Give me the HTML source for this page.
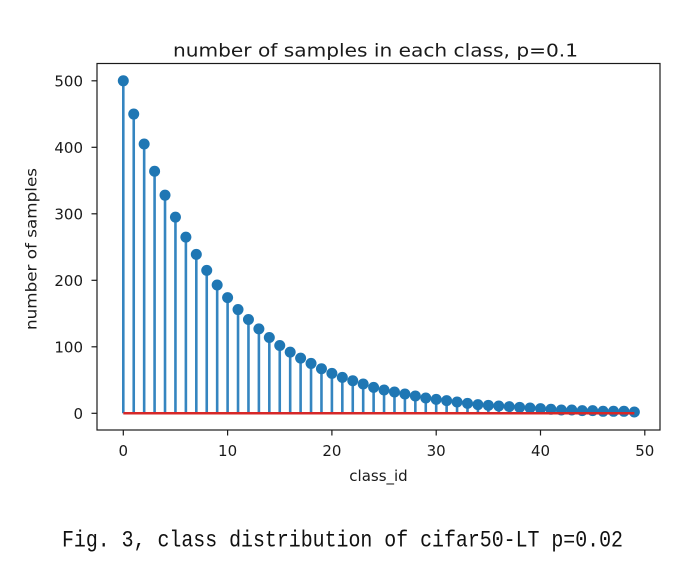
<!DOCTYPE html>
<html>
<head>
<meta charset="utf-8">
<style>
html,body{margin:0;padding:0;background:#fff;}
svg{display:block;}
text{font-family:"DejaVu Sans","Liberation Sans",sans-serif;fill:#1a1a1a;}
</style>
</head>
<body>
<svg width="686" height="570" viewBox="0 0 686 570" xmlns="http://www.w3.org/2000/svg">
<rect width="686" height="570" fill="#fff"/>
<text x="375.5" y="56.5" font-size="18" text-anchor="middle" textLength="405" lengthAdjust="spacingAndGlyphs">number of samples in each class, p=0.1</text>
<g stroke="#3585c0" stroke-width="2.6" fill="none">
<path d="M123.3 413.3V80.8M133.73 413.3V114.05M144.16 413.3V143.98M154.59 413.3V171.24M165.02 413.3V195.18M175.45 413.3V217.13M185.88 413.3V237.08M196.31 413.3V254.37M206.74 413.3V270.33M217.17 413.3V284.96M227.6 413.3V297.59M238.03 413.3V309.56M248.46 413.3V319.54M258.89 413.3V328.85M269.32 413.3V337.49M279.75 413.3V345.47M290.18 413.3V352.12M300.61 413.3V358.1M311.04 413.3V363.43M321.47 413.3V368.75M331.9 413.3V373.4M342.33 413.3V377.39M352.76 413.3V380.72M363.19 413.3V384.04M373.62 413.3V387.37M384.05 413.3V390.03M394.48 413.3V392.02M404.91 413.3V394.02M415.34 413.3V396.01M425.77 413.3V398.01M436.2 413.3V399.34M446.63 413.3V400.67M457.06 413.3V402M467.49 413.3V403.33M477.92 413.3V404.66M488.35 413.3V405.32M498.78 413.3V405.99M509.21 413.3V406.65M519.64 413.3V407.32M530.07 413.3V407.98M540.5 413.3V408.65M550.93 413.3V409.31M561.36 413.3V409.98M571.79 413.3V409.98M582.22 413.3V410.64M592.65 413.3V410.64M603.08 413.3V411.3M613.51 413.3V411.3M623.94 413.3V411.3M634.37 413.3V411.97"/>
</g>
<g fill="#1f77b4">
<circle cx="123.3" cy="80.8" r="5.5"/>
<circle cx="133.73" cy="114.05" r="5.5"/>
<circle cx="144.16" cy="143.98" r="5.5"/>
<circle cx="154.59" cy="171.24" r="5.5"/>
<circle cx="165.02" cy="195.18" r="5.5"/>
<circle cx="175.45" cy="217.13" r="5.5"/>
<circle cx="185.88" cy="237.08" r="5.5"/>
<circle cx="196.31" cy="254.37" r="5.5"/>
<circle cx="206.74" cy="270.33" r="5.5"/>
<circle cx="217.17" cy="284.96" r="5.5"/>
<circle cx="227.6" cy="297.59" r="5.5"/>
<circle cx="238.03" cy="309.56" r="5.5"/>
<circle cx="248.46" cy="319.54" r="5.5"/>
<circle cx="258.89" cy="328.85" r="5.5"/>
<circle cx="269.32" cy="337.49" r="5.5"/>
<circle cx="279.75" cy="345.47" r="5.5"/>
<circle cx="290.18" cy="352.12" r="5.5"/>
<circle cx="300.61" cy="358.1" r="5.5"/>
<circle cx="311.04" cy="363.43" r="5.5"/>
<circle cx="321.47" cy="368.75" r="5.5"/>
<circle cx="331.9" cy="373.4" r="5.5"/>
<circle cx="342.33" cy="377.39" r="5.5"/>
<circle cx="352.76" cy="380.72" r="5.5"/>
<circle cx="363.19" cy="384.04" r="5.5"/>
<circle cx="373.62" cy="387.37" r="5.5"/>
<circle cx="384.05" cy="390.03" r="5.5"/>
<circle cx="394.48" cy="392.02" r="5.5"/>
<circle cx="404.91" cy="394.02" r="5.5"/>
<circle cx="415.34" cy="396.01" r="5.5"/>
<circle cx="425.77" cy="398.01" r="5.5"/>
<circle cx="436.2" cy="399.34" r="5.5"/>
<circle cx="446.63" cy="400.67" r="5.5"/>
<circle cx="457.06" cy="402" r="5.5"/>
<circle cx="467.49" cy="403.33" r="5.5"/>
<circle cx="477.92" cy="404.66" r="5.5"/>
<circle cx="488.35" cy="405.32" r="5.5"/>
<circle cx="498.78" cy="405.99" r="5.5"/>
<circle cx="509.21" cy="406.65" r="5.5"/>
<circle cx="519.64" cy="407.32" r="5.5"/>
<circle cx="530.07" cy="407.98" r="5.5"/>
<circle cx="540.5" cy="408.65" r="5.5"/>
<circle cx="550.93" cy="409.31" r="5.5"/>
<circle cx="561.36" cy="409.98" r="5.5"/>
<circle cx="571.79" cy="409.98" r="5.5"/>
<circle cx="582.22" cy="410.64" r="5.5"/>
<circle cx="592.65" cy="410.64" r="5.5"/>
<circle cx="603.08" cy="411.3" r="5.5"/>
<circle cx="613.51" cy="411.3" r="5.5"/>
<circle cx="623.94" cy="411.3" r="5.5"/>
<circle cx="634.37" cy="411.97" r="5.5"/>
</g>
<line x1="123.3" y1="413.3" x2="634.37" y2="413.3" stroke="#d62728" stroke-width="2.5"/>
<rect x="97" y="63.5" width="563" height="366.5" fill="none" stroke="#1a1a1a" stroke-width="1.2"/>
<g stroke="#1a1a1a" stroke-width="1.2">
<line x1="91.5" y1="413.3" x2="97" y2="413.3"/>
<line x1="91.5" y1="346.8" x2="97" y2="346.8"/>
<line x1="91.5" y1="280.3" x2="97" y2="280.3"/>
<line x1="91.5" y1="213.8" x2="97" y2="213.8"/>
<line x1="91.5" y1="147.3" x2="97" y2="147.3"/>
<line x1="91.5" y1="80.8" x2="97" y2="80.8"/>
<line x1="123.3" y1="430" x2="123.3" y2="435.5"/>
<line x1="227.6" y1="430" x2="227.6" y2="435.5"/>
<line x1="331.9" y1="430" x2="331.9" y2="435.5"/>
<line x1="436.2" y1="430" x2="436.2" y2="435.5"/>
<line x1="540.5" y1="430" x2="540.5" y2="435.5"/>
<line x1="644.8" y1="430" x2="644.8" y2="435.5"/>
</g>
<g font-size="15" text-anchor="end">
<text x="83" y="418.8">0</text>
<text x="83" y="352.3">100</text>
<text x="83" y="285.8">200</text>
<text x="83" y="219.3">300</text>
<text x="83" y="152.8">400</text>
<text x="83" y="86.3">500</text>
</g>
<g font-size="15" text-anchor="middle">
<text x="123.3" y="456">0</text>
<text x="227.6" y="456">10</text>
<text x="331.9" y="456">20</text>
<text x="436.2" y="456">30</text>
<text x="540.5" y="456">40</text>
<text x="644.8" y="456">50</text>
</g>
<text x="378.5" y="481" font-size="15" text-anchor="middle">class_id</text>
<text transform="translate(36.7,249) rotate(-90)" font-size="15" text-anchor="middle" textLength="162" lengthAdjust="spacingAndGlyphs">number of samples</text>
<text x="62" y="546.5" style="font-family:'Liberation Mono','Noto Sans CJK SC',monospace;fill:#111" font-size="23" textLength="561" lengthAdjust="spacingAndGlyphs">Fig. 3, class distribution of cifar50-LT p=0.02</text>
</svg>
</body>
</html>
